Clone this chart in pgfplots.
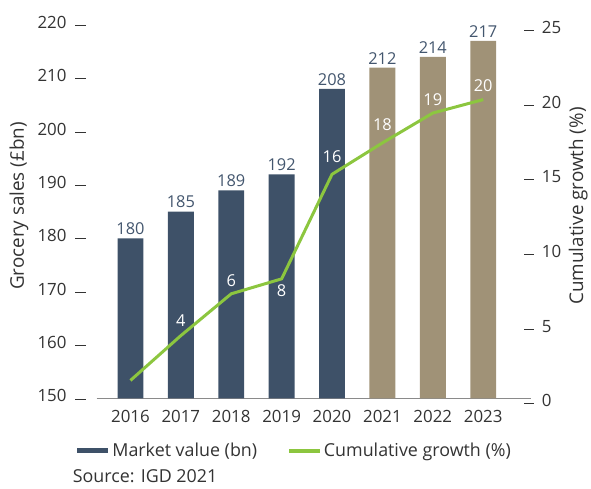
\documentclass[border=0pt]{standalone}
\usepackage{fontspec}
\setmainfont{Open Sans}
\usepackage{pgfplots}
\pgfplotsset{compat=1.18}

\definecolor{barblue}{HTML}{3E5168}
\definecolor{barkhaki}{HTML}{A09277}
\definecolor{growth}{HTML}{8CC63F}
\definecolor{txt}{HTML}{333333}
\definecolor{lbl}{HTML}{43566E}
\definecolor{axgrey}{HTML}{8A8A8A}

\newcommand\ticksz{\fontsize{17}{20}\selectfont}
\newcommand\valsz{\fontsize{16.5}{19}\selectfont}
\newcommand\legsz{\fontsize{18}{21}\selectfont}
\newcommand\labsz{\fontsize{19}{22}\selectfont}

\pgfplotsset{
  base/.style={
    scale only axis,
    width=428bp, height=375bp,
    xmin=2015.328, xmax=2023.787,
    major tick length=0pt,
    tick style={draw=none},
    /pgf/number format/assume math mode=true,
    tick label style={text=txt, font=\ticksz},
    label style={text=txt, font=\labsz},
    nodes near coords style={font=\valsz},
  }
}

\begin{document}
\begin{tikzpicture}
\begin{axis}[
  base, name=ax,
  ymin=150, ymax=220, ytick={150,160,...,220},
  axis y line*=left, axis x line*=bottom,
  y axis line style={draw=none},
  x axis line style={draw=axgrey, line width=0.8bp, -, shorten >=-8bp},
  xtick={2016,...,2023},
  xticklabels={2016,2017,2018,2019,2020,2021,2022,2023},
  xticklabel style={inner sep=0pt, yshift=-12bp},
  yticklabel={\pgfmathprintnumber{\tick}\hspace{9bp}\rule[2.6bp]{11bp}{0.8bp}},
  yticklabel style={anchor=east, inner sep=0pt, xshift=-10bp, yshift=2.5bp},
  ylabel={Grocery sales (£bn)},
  ylabel style={at={(rel axis cs:-0.182,0.515)}, anchor=center},
  legend columns=2,
  legend image code/.code={\draw[#1] (0bp,0bp) -- (31bp,0bp);},
  legend style={at={(rel axis cs:-0.051,-0.140)}, anchor=west, draw=none, fill=none,
    inner sep=0pt, text=txt, font=\legsz,
    /tikz/every even column/.append style={column sep=28bp}},
]
\addlegendimage{barblue, line width=4.5bp}
\addlegendentry{Market value (bn)}
\addlegendimage{growth, line width=4bp}
\addlegendentry{Cumulative growth (\%)}
\addplot[ybar, bar width=26bp, bar shift=0pt, fill=barblue, draw=none,
  nodes near coords, nodes near coords style={text=lbl}, forget plot]
  coordinates {(2016,180) (2017,185) (2018,189) (2019,192) (2020,208)};
\addplot[ybar, bar width=26bp, bar shift=0pt, fill=barkhaki, draw=none,
  nodes near coords, nodes near coords style={text=lbl}, forget plot]
  coordinates {(2021,212) (2022,214) (2023,217)};
\end{axis}
\begin{axis}[
  base,
  ymin=0, ymax=25, ytick={0,5,...,25},
  axis y line*=right, axis x line=none,
  y axis line style={draw=none},
  yticklabel={\rule[2.6bp]{10bp}{0.8bp}\hspace{8bp}\pgfmathprintnumber{\tick}},
  yticklabel style={anchor=west, inner sep=0pt, xshift=1bp, yshift=-2.5bp},
  ylabel={Cumulative growth (\%)},
  ylabel style={at={(rel axis cs:1.13,0.515)}, anchor=center},
]
\addplot[growth, line width=3bp, mark=none]
  coordinates {(2016,1.2) (2017,4.2) (2018,7.0) (2019,8.0) (2020,15.0) (2021,17.1) (2022,19.1) (2023,20.0)};
\addplot[draw=none, mark=none, nodes near coords, point meta=explicit symbolic,
  nodes near coords style={text=white, anchor=center, inner sep=0pt}]
  coordinates {(2017,5.2)[4] (2018,7.9)[6] (2019,7.2)[8] (2020,16.2)[16] (2021,18.3)[18] (2022,20.0)[19] (2023,20.9)[20]};
\end{axis}
\node[anchor=west, inner sep=0pt, text=txt, font=\legsz] at ([xshift=-24bp, yshift=-78bp]ax.south west) {Source: IGD 2021};
\path ([xshift=-97bp, yshift=400bp]ax.south west) rectangle ([xshift=494bp, yshift=-91bp]ax.south west);
\end{tikzpicture}
\end{document}
